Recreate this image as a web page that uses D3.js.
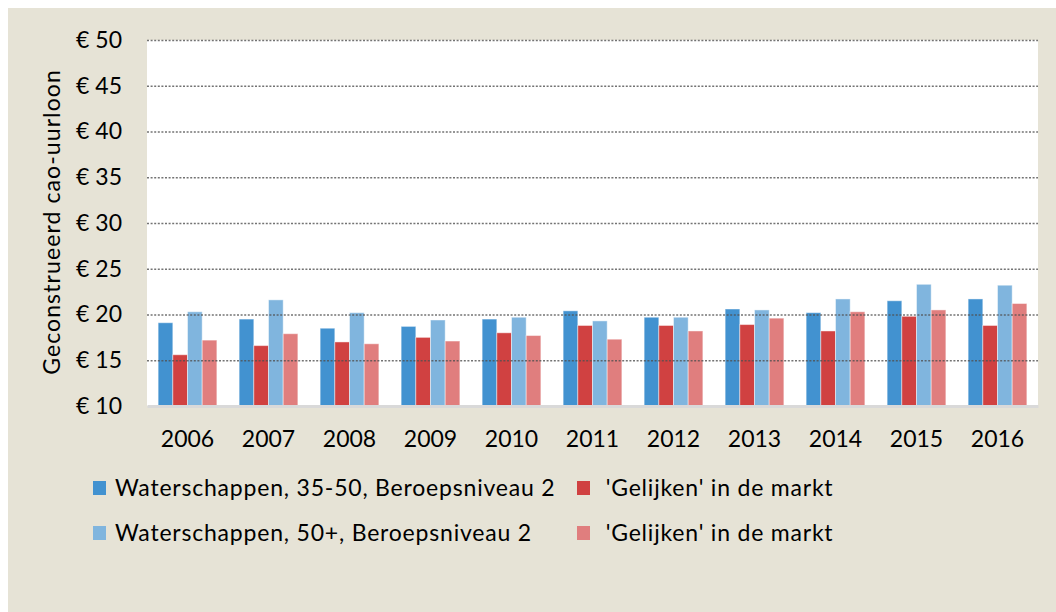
<!DOCTYPE html>
<html>
<head>
<meta charset="utf-8">
<script src="https://cdn.jsdelivr.net/npm/d3@7"></script>
<style>
  html, body { margin: 0; padding: 0; background: #ffffff; }
  svg { display: block; }
  text { font-family: Lato, "Open Sans", "Liberation Sans", sans-serif; fill: #000; }
</style>
</head>
<body>
<svg id="chart" width="1056" height="612"></svg>
<script>
// Jaren op de x-as
const years = ['2006', '2007', '2008', '2009', '2010', '2011', '2012', '2013', '2014', '2015', '2016'];

// Reeksnamen zoals in de legenda
const seriesNames = [
  'Waterschappen, 35-50, Beroepsniveau 2',
  " 'Gelijken' in de markt",
  'Waterschappen, 50+, Beroepsniveau 2',
  " 'Gelijken' in de markt"
];

// Geconstrueerd cao-uurloon per jaar (euro)
const waterschappen3550 = [19.1, 19.5, 18.5, 18.7, 19.5, 20.4, 19.7, 20.6, 20.2, 21.5, 21.7];
const gelijken3550      = [15.6, 16.6, 17.0, 17.5, 18.0, 18.8, 18.8, 18.9, 18.2, 19.8, 18.8];
const waterschappen50   = [20.3, 21.6, 20.2, 19.4, 19.7, 19.3, 19.7, 20.5, 21.7, 23.3, 23.2];
const gelijken50        = [17.2, 17.9, 16.8, 17.1, 17.7, 17.3, 18.2, 19.6, 20.3, 20.5, 21.2];

// Y-as
const yTicks = [10, 15, 20, 25, 30, 35, 40, 45, 50];
const yTitle = 'Geconstrueerd cao-uurloon';

const seriesValues = [waterschappen3550, gelijken3550, waterschappen50, gelijken50];
const colors = ['#4292d0', '#d04141', '#80b5de', '#e07e7e'];

const svg = d3.select('#chart');

// achtergrondpaneel
svg.append('rect')
  .attr('x', 8).attr('y', 8)
  .attr('width', 1048).attr('height', 604)
  .attr('fill', '#e6e3d6');

const plot = { left: 147, right: 1038, top: 40, bottom: 406 };

// wit plotvlak
svg.append('rect')
  .attr('x', plot.left).attr('y', plot.top)
  .attr('width', plot.right - plot.left).attr('height', plot.bottom - plot.top)
  .attr('fill', '#ffffff');

const x0 = d3.scaleBand()
  .domain(years)
  .range([plot.left, plot.right])
  .paddingInner(0.275)
  .paddingOuter(0.1375);

const x1 = d3.scaleBand()
  .domain(d3.range(seriesValues.length))
  .range([0, x0.bandwidth()]);

const y = d3.scaleLinear()
  .domain([d3.min(yTicks), d3.max(yTicks)])
  .range([plot.bottom, plot.top]);

// staven
const groups = svg.append('g').selectAll('g')
  .data(years)
  .join('g')
  .attr('transform', d => `translate(${x0(d)},0)`);

groups.selectAll('rect')
  .data((d, i) => seriesValues.map((vals, s) => ({ s, v: vals[i] })))
  .join('rect')
  .attr('x', d => x1(d.s))
  .attr('y', d => y(d.v))
  .attr('width', x1.bandwidth())
  .attr('height', d => y(yTicks[0]) - y(d.v))
  .attr('fill', d => colors[d.s])
  .attr('stroke', 'rgba(255,255,255,0.45)')
  .attr('stroke-width', 1);

// gestippelde rasterlijnen
svg.append('g')
  .attr('transform', `translate(${plot.left},0)`)
  .call(d3.axisLeft(y)
    .tickValues(yTicks.slice(1))
    .tickSize(-(plot.right - plot.left))
    .tickFormat(''))
  .call(g => g.select('.domain').remove())
  .call(g => g.selectAll('.tick line')
    .attr('stroke', 'rgba(80,80,80,0.8)')
    .attr('stroke-width', 1.6)
    .attr('stroke-dasharray', '2,1.6'));

// y-as labels
svg.append('g')
  .attr('transform', `translate(${plot.left},0)`)
  .call(d3.axisLeft(y)
    .tickValues(yTicks)
    .tickSize(0)
    .tickPadding(25)
    .tickFormat(d => '€ ' + d))
  .call(g => g.select('.domain').remove())
  .call(g => g.selectAll('text')
    .attr('font-size', 23)
    .attr('font-family', 'Lato, sans-serif')
    .attr('fill', '#000'));

// x-as
svg.append('g')
  .attr('transform', `translate(0,${plot.bottom})`)
  .call(d3.axisBottom(x0).tickSize(0).tickPadding(25))
  .call(g => g.select('.domain')
    .attr('stroke', '#d9d9d9')
    .attr('stroke-width', 3))
  .call(g => g.selectAll('text')
    .attr('font-size', 23)
    .attr('font-family', 'Lato, sans-serif')
    .attr('fill', '#000'));

// y-as titel
svg.append('text')
  .attr('transform', `translate(60,${(plot.top + plot.bottom) / 2 - 1}) rotate(-90)`)
  .attr('text-anchor', 'middle')
  .attr('font-size', 23)
  .attr('letter-spacing', 1.1)
  .text(yTitle);

// legenda
const legendCols = [93, 577];
const legendRows = [488, 533];
const legend = svg.append('g');
seriesNames.forEach((name, i) => {
  const lx = legendCols[i % 2];
  const ly = legendRows[Math.floor(i / 2)];
  legend.append('rect')
    .attr('x', lx).attr('y', ly - 7)
    .attr('width', 13).attr('height', 14)
    .attr('fill', colors[i]);
  legend.append('text')
    .attr('x', lx + 22).attr('y', ly)
    .attr('dy', '0.35em')
    .attr('font-size', 23)
    .attr('letter-spacing', 0.8)
    .style('white-space', 'pre')
    .text(name);
});
</script>
</body>
</html>
